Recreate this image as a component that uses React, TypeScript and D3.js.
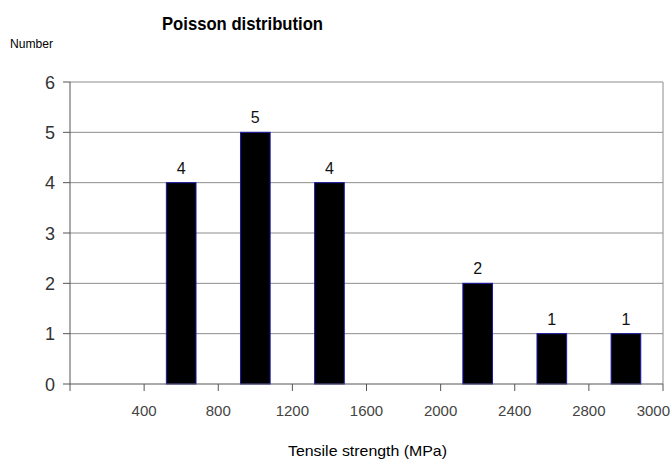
import React, { useEffect, useRef } from "react";
import * as d3 from "d3";

// Histogram bins (upper edge label of each bin) and counts per bin
const binLabels = ["400", "800", "1200", "1600", "2000", "2400", "2800", "3000"];
const counts = [0, 4, 5, 4, 0, 2, 1, 1];
const yTicks = [0, 1, 2, 3, 4, 5, 6];

const title = "Poisson distribution";
const yTitle = "Number";
const xTitle = "Tensile strength (MPa)";

const W = 671;
const H = 459;
const margin = { left: 70, right: 8, top: 82, bottom: 75 };

export default function App() {
  const ref = useRef<SVGSVGElement | null>(null);

  useEffect(() => {
    const svg = d3.select(ref.current);
    svg.selectAll("*").remove();

    const x0 = margin.left;
    const x1 = W - margin.right;
    const y0 = H - margin.bottom;
    const y1 = margin.top;

    const x = d3
      .scaleBand<number>()
      .domain(d3.range(counts.length))
      .range([x0, x1])
      .paddingInner(0.6)
      .paddingOuter(0.3);
    const xEdge = d3.scaleLinear().domain([0, counts.length]).range([x0, x1]);
    const y = d3.scaleLinear().domain([0, 6]).range([y0, y1]);

    const font = "Liberation Sans, Arial, sans-serif";

    // gridlines
    svg
      .append("g")
      .selectAll("line")
      .data(yTicks.filter((t) => t > 0))
      .join("line")
      .attr("x1", x0)
      .attr("x2", x1)
      .attr("y1", (d) => y(d))
      .attr("y2", (d) => y(d))
      .attr("stroke", "#8c8c8c")
      .attr("stroke-width", 1);

    // right border of plot area
    svg
      .append("line")
      .attr("x1", x1)
      .attr("x2", x1)
      .attr("y1", y1)
      .attr("y2", y0)
      .attr("stroke", "#8c8c8c");

    // bars
    svg
      .append("g")
      .selectAll("rect")
      .data(counts.map((c, i) => ({ c, i })).filter((d) => d.c > 0))
      .join("rect")
      .attr("x", (d) => x(d.i)!)
      .attr("width", x.bandwidth())
      .attr("y", (d) => y(d.c))
      .attr("height", (d) => y0 - y(d.c))
      .attr("fill", "#000")
      .attr("stroke", "#1a1aa8")
      .attr("stroke-width", 1);

    // value labels
    svg
      .append("g")
      .selectAll("text")
      .data(counts.map((c, i) => ({ c, i })).filter((d) => d.c > 0))
      .join("text")
      .attr("x", (d) => x(d.i)! + x.bandwidth() / 2)
      .attr("y", (d) => y(d.c) - 9)
      .attr("text-anchor", "middle")
      .attr("font-family", font)
      .attr("font-size", 16)
      .attr("fill", "#111")
      .text((d) => d.c);

    // y axis
    const yAxis = svg.append("g");
    yAxis
      .append("line")
      .attr("x1", x0)
      .attr("x2", x0)
      .attr("y1", y1)
      .attr("y2", y0)
      .attr("stroke", "#555");
    yAxis
      .selectAll("line.tick")
      .data(yTicks)
      .join("line")
      .attr("class", "tick")
      .attr("x1", x0 - 7)
      .attr("x2", x0)
      .attr("y1", (d) => y(d))
      .attr("y2", (d) => y(d))
      .attr("stroke", "#555");
    yAxis
      .selectAll("text")
      .data(yTicks)
      .join("text")
      .attr("x", x0 - 15)
      .attr("y", (d) => y(d) + 6.5)
      .attr("text-anchor", "end")
      .attr("font-family", font)
      .attr("font-size", 18)
      .attr("fill", "#333")
      .text((d) => d);

    // x axis
    const xAxis = svg.append("g");
    xAxis
      .append("line")
      .attr("x1", x0)
      .attr("x2", x1)
      .attr("y1", y0)
      .attr("y2", y0)
      .attr("stroke", "#555");
    xAxis
      .selectAll("line.tick")
      .data(d3.range(counts.length + 1))
      .join("line")
      .attr("class", "tick")
      .attr("x1", (d) => xEdge(d))
      .attr("x2", (d) => xEdge(d))
      .attr("y1", y0)
      .attr("y2", y0 + 7)
      .attr("stroke", "#555");
    const last = binLabels.length - 1;
    xAxis
      .selectAll("text")
      .data(binLabels)
      .join("text")
      .attr("x", (_d, i) => (i === last ? W - 1 : xEdge(i + 1)))
      .attr("y", y0 + 32)
      .attr("text-anchor", (_d, i) => (i === last ? "end" : "middle"))
      .attr("font-family", font)
      .attr("font-size", 15)
      .attr("fill", "#444")
      .text((d) => d);

    // titles
    svg
      .append("text")
      .attr("x", 162)
      .attr("y", 30)
      .attr("font-family", font)
      .attr("font-size", 19)
      .attr("font-weight", "bold")
      .attr("textLength", 161)
      .attr("lengthAdjust", "spacingAndGlyphs")
      .attr("fill", "#000")
      .text(title);

    svg
      .append("text")
      .attr("x", 10)
      .attr("y", 48)
      .attr("font-family", font)
      .attr("font-size", 13.5)
      .attr("textLength", 43)
      .attr("lengthAdjust", "spacingAndGlyphs")
      .attr("fill", "#000")
      .text(yTitle);

    svg
      .append("text")
      .attr("x", 288)
      .attr("y", 456)
      .attr("font-family", font)
      .attr("font-size", 15)
      .attr("textLength", 159)
      .attr("lengthAdjust", "spacingAndGlyphs")
      .attr("fill", "#000")
      .text(xTitle);
  }, []);

  return (
    <svg
      ref={ref}
      width={W}
      height={H}
      style={{ position: "absolute", left: 0, top: 0, background: "#fff", display: "block" }}
    />
  );
}
